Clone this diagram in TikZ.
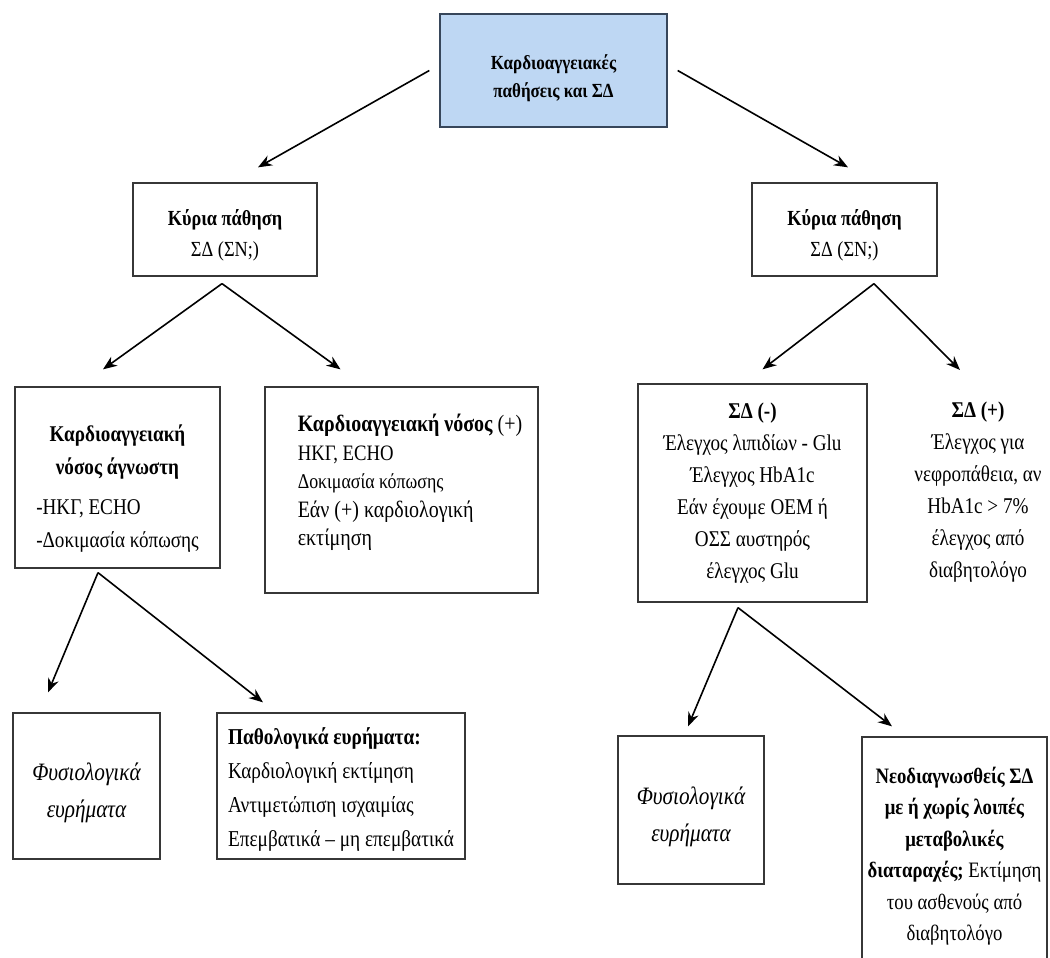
\documentclass[tikz,border=0pt]{standalone}
\usepackage{fontspec}
\setmainfont{Liberation Serif}[FakeStretch = 0.85]
\usetikzlibrary{arrows.meta, calc}
\definecolor{boxblue}{RGB}{190,215,243}
\definecolor{boxnavy}{RGB}{55,70,90}
\definecolor{boxline}{RGB}{55,55,55}

\begin{document}
\begin{tikzpicture}[x = 1pt, y = -1pt]
\tikzstyle{BoxStyle}=[shape = rectangle,
                      draw = boxline,
                      line width = 1.3pt,
                      inner sep = 0pt,
                      align = center]
\tikzstyle{EdgeStyle}=[-{Stealth[length = 14pt, width = 11pt]},
                       line width = 1.6pt]
\useasboundingbox (0,0) rectangle (1050,958);
\clip (0,0) rectangle (1050,958);
\node[BoxStyle, fill = boxblue, draw = boxnavy, minimum width = 227pt, minimum height = 113pt, font = \fontsize{20}{28}\selectfont\bfseries] (b0) at (553.5,70.5) {\rule{0pt}{31pt}Καρδιοαγγειακές\\παθήσεις και ΣΔ};
\node[BoxStyle, minimum width = 184pt, minimum height = 93pt, font = \fontsize{21.5}{31}\selectfont] (b1) at (225,229.5) {\rule{0pt}{27pt}\textbf{Κύρια πάθηση}\\ΣΔ (ΣΝ;)};
\node[BoxStyle, minimum width = 185pt, minimum height = 93pt, font = \fontsize{21.5}{31}\selectfont] (b2) at (844.5,229.5) {\rule{0pt}{27pt}\textbf{Κύρια πάθηση}\\ΣΔ (ΣΝ;)};
\node[BoxStyle, minimum width = 205pt, minimum height = 181pt, font = \fontsize{22.5}{33}\selectfont] (b3) at (117.5,477.5) {\begin{tabular}{@{}l@{}}\multicolumn{1}{@{}c@{}}{\rule{0pt}{43pt}\bfseries Καρδιοαγγειακή}\\ \multicolumn{1}{@{}c@{}}{\bfseries νόσος άγνωστη}\\[7pt] -ΗΚΓ, ECHO\\ -Δοκιμασία κόπωσης\end{tabular}};
\node[BoxStyle, minimum width = 273pt, minimum height = 206pt, font = \fontsize{23.5}{28.5}\selectfont] (b4) at (401.5,490) {\begin{tabular}{@{\hspace{17pt}}l@{}}{\bfseries Καρδιοαγγειακή νόσος} (+)\\ {\fontsize{22}{28.5}\selectfont ΗΚΓ, ECHO}\\ {\fontsize{21}{28.5}\selectfont Δοκιμασία κόπωσης}\\ Εάν (+) καρδιολογική\\ \rule[-22pt]{0pt}{0pt}εκτίμηση\end{tabular}};
\node[BoxStyle, minimum width = 248pt, minimum height = 146pt, font = \fontsize{22.7}{34}\selectfont] (b5) at (341,786) {\begin{tabular}{@{}l@{}}\rule{0pt}{30pt}{\bfseries Παθολογικά ευρήματα:}\\ Καρδιολογική εκτίμηση\\ Αντιμετώπιση ισχαιμίας\\ Επεμβατικά – μη επεμβατικά\end{tabular}};
\node[BoxStyle, minimum width = 147pt, minimum height = 146pt, font = \fontsize{25}{37}\selectfont\itshape] (b6) at (86.5,786) {\rule{0pt}{32pt}Φυσιολογικά\\ευρήματα};
\node[BoxStyle, minimum width = 229pt, minimum height = 218pt, font = \fontsize{22.5}{32}\selectfont] (b7) at (752.5,493) {\textbf{ΣΔ (-)}\\Έλεγχος λιπιδίων - Glu\\Έλεγχος HbA1c\\Εάν έχουμε ΟΕΜ ή\\ΟΣΣ αυστηρός\\έλεγχος Glu};
\node[align = center, inner sep = 0pt, font = \fontsize{22.5}{32}\selectfont] (b8) at (978,492) {\textbf{ΣΔ (+)}\\Έλεγχος για\\νεφροπάθεια, αν\\HbA1c > 7\%\\έλεγχος από\\διαβητολόγο};
\node[BoxStyle, minimum width = 146pt, minimum height = 148pt, font = \fontsize{25}{37}\selectfont\itshape] (b9) at (691,810) {\rule{0pt}{32pt}Φυσιολογικά\\ευρήματα};
\node[BoxStyle, minimum width = 185pt, minimum height = 238pt, font = \fontsize{22}{31.5}\selectfont] (b10) at (954.5,856) {\textbf{Νεοδιαγνωσθείς ΣΔ}\\\textbf{με ή χωρίς λοιπές}\\\textbf{μεταβολικές}\\\textbf{διαταραχές;} Εκτίμηση\\του ασθενούς από\\διαβητολόγο};
\draw[EdgeStyle] ($(b0.west)+(-10,0)$) -- ($(b1.north)+(33,-15)$);
\draw[EdgeStyle] ($(b0.east)+(10,0)$) -- ($(b2.north)+(3.5,-15)$);
\draw[EdgeStyle] ($(b1.south)+(-3,7)$) -- ($(b3.north)+(-14.5,-17)$);
\draw[EdgeStyle] ($(b1.south)+(-3,7)$) -- ($(b4.north)+(-61,-17)$);
\draw[EdgeStyle] ($(b2.south)+(29.5,7)$) -- ($(b7.north)+(10,-14)$);
\draw[EdgeStyle] ($(b2.south)+(29.5,7)$) -- ($(b8.center)+(-18,-122)$);
\draw[EdgeStyle] ($(b3.south)+(-19.5,4)$) -- ($(b6.north)+(-38.5,-20)$);
\draw[EdgeStyle] ($(b3.south)+(-19.5,4)$) -- ($(b5.north)+(-78,-10)$);
\draw[EdgeStyle] ($(b7.south)+(-14.5,5)$) -- ($(b9.north)+(-3,-9)$);
\draw[EdgeStyle] ($(b7.south)+(-14.5,5)$) -- ($(b10.north)+(-62.5,-10)$);
\end{tikzpicture}
\end{document}
